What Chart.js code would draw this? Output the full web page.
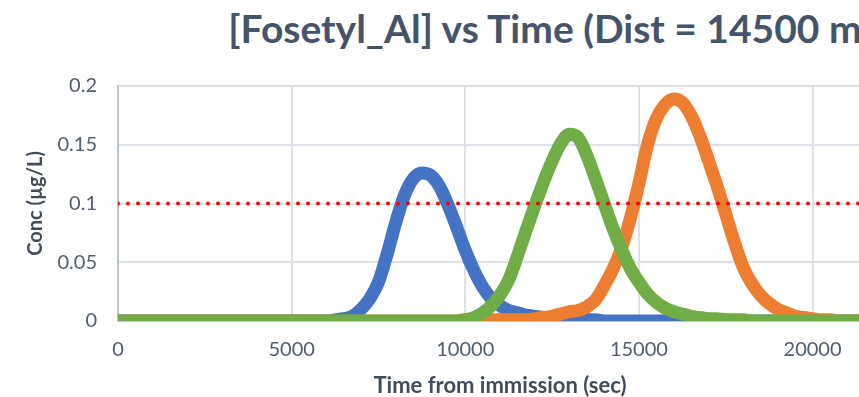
<!DOCTYPE html>
<html lang="en">
<head>
    <meta charset="UTF-8">
    <title>[Fosetyl_Al] vs Time</title>
    <script src="https://cdn.jsdelivr.net/npm/chart.js"></script>
    <style>
        body {
            margin: 0;
            padding: 0;
            background: #fff;
            overflow: hidden;
        }

        .frame {
            position: relative;
            width: 1100px;
            height: 397px;
        }

        .chart-title {
            position: absolute;
            top: 9px;
            left: 0;
            width: 1100px;
            text-align: center;
            font-family: Lato, 'Open Sans', sans-serif;
            font-weight: bold;
            font-size: 39px;
            line-height: 39px;
            color: #44546a;
            white-space: nowrap;
        }

        .chart-box {
            position: absolute;
            top: 0;
            left: 0;
            width: 900px;
            height: 397px;
        }
    </style>
</head>
<body>
    <div class="frame">
        <div class="chart-title">[Fosetyl_Al] vs Time (Dist = 14500 m)</div>
        <div class="chart-box">
            <canvas id="concChart"></canvas>
        </div>
    </div>

    <script>
        // time from immission (sec), shared by all three series
        const times = [
            0, 1000, 2000, 3000, 4000, 5000,
            6000, 6250, 6500, 6750, 7000, 7250, 7500, 7750,
            8000, 8250, 8500, 8750, 9000, 9250, 9500, 9750,
            10000, 10250, 10500, 10750, 11000, 11250, 11500, 11750,
            12000, 12250, 12500, 12750, 13000, 13250, 13500, 13750,
            14000, 14250, 14500, 14750, 15000, 15250, 15500, 15750,
            16000, 16250, 16500, 16750, 17000, 17250, 17500, 17750,
            18000, 18250, 18500, 18750, 19000, 19250, 19500, 19750,
            20000, 20250, 20500, 20750, 21000, 22000
        ];

        // concentration (ug/L)
        const blueConc = [
            0, 0, 0, 0, 0, 0,
            0, 0.001, 0.002, 0.004, 0.010, 0.019, 0.033, 0.057,
            0.084, 0.107, 0.121, 0.126, 0.124, 0.115, 0.099, 0.080,
            0.060, 0.043, 0.029, 0.019, 0.013, 0.009, 0.007, 0.005,
            0.004, 0.003, 0.002, 0.002, 0.001, 0.001, 0.001, 0.001,
            0, 0, 0, 0, 0, 0, 0, 0,
            0, 0, 0, 0, 0, 0, 0, 0,
            0, 0, 0, 0, 0, 0, 0, 0,
            0, 0, 0, 0, 0, 0
        ];

        const orangeConc = [
            0, 0, 0, 0, 0, 0,
            0, 0, 0, 0, 0, 0, 0, 0,
            0, 0, 0, 0, 0, 0, 0, 0,
            0.001, 0.001, 0.001, 0.001, 0.001, 0.001, 0.001, 0.001,
            0.002, 0.003, 0.004, 0.006, 0.008, 0.009, 0.012, 0.018,
            0.030, 0.044, 0.062, 0.087, 0.117, 0.150, 0.172, 0.184,
            0.189, 0.186, 0.175, 0.158, 0.137, 0.115, 0.091, 0.067,
            0.046, 0.032, 0.022, 0.015, 0.010, 0.007, 0.004, 0.003,
            0.002, 0.001, 0.001, 0, 0, 0
        ];

        const greenConc = [
            0, 0, 0, 0, 0, 0,
            0, 0, 0, 0, 0, 0, 0, 0,
            0, 0, 0, 0, 0, 0, 0, 0,
            0.001, 0.003, 0.007, 0.013, 0.022, 0.035, 0.055, 0.077,
            0.098, 0.118, 0.136, 0.151, 0.159, 0.156, 0.141, 0.121,
            0.100, 0.079, 0.061, 0.045, 0.033, 0.023, 0.016, 0.011,
            0.008, 0.006, 0.004, 0.003, 0.002, 0.002, 0.001, 0.001,
            0.001, 0, 0, 0, 0, 0, 0, 0,
            0, 0, 0, 0, 0, 0
        ];

        // 0.1 ug/L limit line
        const limitTimes = [0, 22000];
        const limitConc = [0.1, 0.1];

        const xTicks = [0, 5000, 10000, 15000, 20000];
        const yTicks = [0, 0.05, 0.1, 0.15, 0.2];

        const toPoints = (xs, ys) => xs.map((x, i) => ({ x: x, y: ys[i] }));

        const series = (label, ys, color, order) => ({
            label: label,
            data: toPoints(times, ys),
            borderColor: color,
            backgroundColor: color,
            borderWidth: 13,
            borderCapStyle: 'round',
            borderJoinStyle: 'round',
            pointRadius: 0,
            cubicInterpolationMode: 'monotone',
            showLine: true,
            order: order
        });

        const fontFamily = "Lato, 'Open Sans', sans-serif";
        const tickFont = { family: fontFamily, size: 20 };

        const ctx = document.getElementById('concChart').getContext('2d');
        new Chart(ctx, {
            type: 'scatter',
            data: {
                datasets: [
                    {
                        label: 'Limit',
                        data: toPoints(limitTimes, limitConc),
                        borderColor: '#ff0000',
                        borderWidth: 4,
                        borderDash: [0, 10],
                        borderCapStyle: 'round',
                        pointRadius: 0,
                        showLine: true,
                        order: 0
                    },
                    series('Series 3', greenConc, '#70ad47', 1),
                    series('Series 2', orangeConc, '#ed7d31', 2),
                    series('Series 1', blueConc, '#4472c4', 3)
                ]
            },
            options: {
                responsive: true,
                maintainAspectRatio: false,
                animation: false,
                layout: {
                    padding: { top: 86, left: 20, right: 18, bottom: 0 }
                },
                plugins: {
                    legend: { display: false },
                    tooltip: { enabled: false }
                },
                scales: {
                    x: {
                        type: 'linear',
                        min: 0,
                        max: 22000,
                        afterBuildTicks: (scale) => {
                            scale.ticks = xTicks.map(v => ({ value: v }));
                        },
                        afterFit: (scale) => { scale.height = 76; },
                        ticks: {
                            padding: 17,
                            color: '#525d6c',
                            font: tickFont,
                            callback: (v) => String(v)
                        },
                        grid: { color: '#dde1e8', lineWidth: 2, drawTicks: false },
                        border: { color: '#b8c2d2', width: 2 },
                        title: {
                            display: true,
                            text: 'Time from immission (sec)',
                            color: '#404c5c',
                            font: { family: fontFamily, size: 22, weight: 'bold', lineHeight: 1 },
                            padding: { top: 0, bottom: 0 }
                        }
                    },
                    y: {
                        min: 0,
                        max: 0.2,
                        afterBuildTicks: (scale) => {
                            scale.ticks = yTicks.map(v => ({ value: v }));
                        },
                        afterFit: (scale) => { scale.width = 98; },
                        ticks: {
                            padding: 21,
                            color: '#525d6c',
                            font: tickFont,
                            callback: (v) => String(+v.toFixed(2))
                        },
                        grid: { color: '#dde1e8', lineWidth: 2, drawTicks: false },
                        border: { color: '#b8c2d2', width: 2 },
                        title: {
                            display: true,
                            text: 'Conc (µg/L)',
                            color: '#404c5c',
                            font: { family: fontFamily, size: 20, weight: 'bold' },
                            padding: { top: 4, bottom: 4 }
                        }
                    }
                }
            }
        });
    </script>
</body>
</html>
